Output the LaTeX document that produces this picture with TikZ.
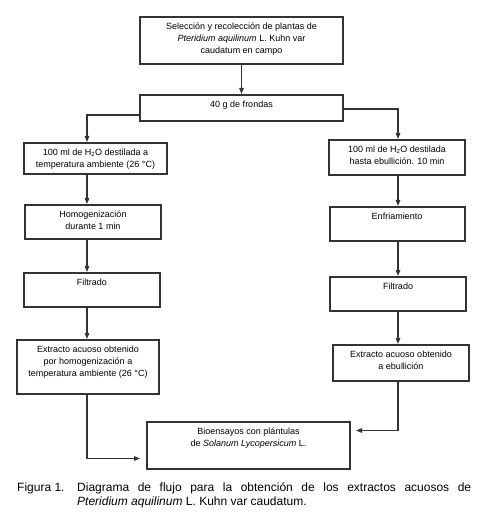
\documentclass[tikz,border=0pt]{standalone}
\usepackage{fontspec}
\setmainfont{Liberation Sans}
\usepackage{xcolor}
\usepackage{tikz}
\usetikzlibrary{positioning, arrows.meta}

\begin{document}
\begin{tikzpicture}[x=1pt, y=-1pt,
    stage/.style={rectangle, draw=black!80, line width=2pt, inner sep=0pt},
    txt/.style={anchor=north, align=center, inner sep=0pt, yshift=-7pt, font=\fontsize{9}{12}\selectfont},
    arr/.style={draw=black!80, line width=1.3pt, -{Triangle[length=6pt,width=4.5pt]}}]
    \useasboundingbox (0,0) rectangle (487,526);

    \node (sel) [stage, minimum width=203pt, minimum height=47pt, label={[txt]north:Selección y recolección de plantas de\\ \textit{Pteridium aquilinum} L. Kuhn var\\ caudatum en campo}] at (241.5,40.5) {};
    \node (frondas) [stage, below=29pt of sel, minimum width=203pt, minimum height=26pt, label={[txt]north:40 g de frondas}] {};

    % left column
    \node (agua1) [stage, minimum width=143pt, minimum height=31pt, label={[txt]north:100 ml de H\textsubscript{2}O destilada a\\ temperatura ambiente (26 °C)}] at (95.5,158.5) {};
    \node (homog) [stage, below=29pt of agua1, xshift=-2.5pt, minimum width=136pt, minimum height=34pt, label={[txt]north:Homogenización\\ durante 1 min}] {};
    \node (filtroA) [stage, below=32pt of homog, xshift=-1pt, minimum width=136pt, minimum height=34pt, label={[txt]north:Filtrado}] {};
    \node (extA) [stage, below=31pt of filtroA, xshift=-4pt, minimum width=142pt, minimum height=54pt, label={[txt]north:Extracto acuoso obtenido\\ por homogenización a\\ temperatura ambiente (26 °C)}] {};

    % right column
    \node (agua2) [stage, minimum width=136pt, minimum height=35pt, label={[txt]north:100 ml de H\textsubscript{2}O destilada\\ hasta ebullición. 10 min}] at (397,157.5) {};
    \node (enfr) [stage, below=30pt of agua2, minimum width=135pt, minimum height=34pt, label={[txt]north:Enfriamiento}] {};
    \node (filtroB) [stage, below=34pt of enfr, xshift=1pt, minimum width=136pt, minimum height=34pt, label={[txt]north:Filtrado}] {};
    \node (extB) [stage, below=32pt of filtroB, xshift=3pt, minimum width=136pt, minimum height=36pt, label={[txt]north:Extracto acuoso obtenido\\ a ebullición}] {};

    \node (bio) [stage, minimum width=203pt, minimum height=47pt, label={[txt]north:Bioensayos con plántulas\\ de \textit{Solanum Lycopersicum} L.}] at (248.5,445.5) {};

    \coordinate (lspine) at (87,0);
    \coordinate (rspine) at (398,0);

    \draw[arr] (sel) -- (frondas);
    \draw[arr] ([yshift=-7pt]frondas.west) -| (agua1.north -| lspine);
    \draw[arr] ([yshift=-1pt]frondas.east) -| (agua2.north -| rspine);

    \draw[arr] (agua1.south -| lspine) -- (homog.north -| lspine);
    \draw[arr] (homog.south -| lspine) -- (filtroA.north -| lspine);
    \draw[arr] (filtroA.south -| lspine) -- (extA.north -| lspine);
    \draw[arr, shorten >=6pt] (extA.south -| lspine) |- ([yshift=-13pt]bio.west);

    \draw[arr] (agua2.south -| rspine) -- (enfr.north -| rspine);
    \draw[arr] (enfr.south -| rspine) -- (filtroB.north -| rspine);
    \draw[arr] (filtroB.south -| rspine) -- (extB.north -| rspine);
    \draw[arr, shorten >=5pt] (extB.south -| rspine) |- ([yshift=15pt]bio.east);

    % caption
    \node (fig) [anchor=north west, inner sep=0pt, font=\fontsize{12}{13.5}\selectfont] at (17,482) {\strut Figura 1.};
    \node (caption) [anchor=north west, inner sep=0pt, text width=394pt, align=justify, font=\fontsize{12}{13.5}\selectfont] at (77,482) {\strut Diagrama de flujo para la obtención de los extractos acuosos de\linebreak \textit{Pteridium aquilinum} L. Kuhn var caudatum.};
\end{tikzpicture}
\end{document}
